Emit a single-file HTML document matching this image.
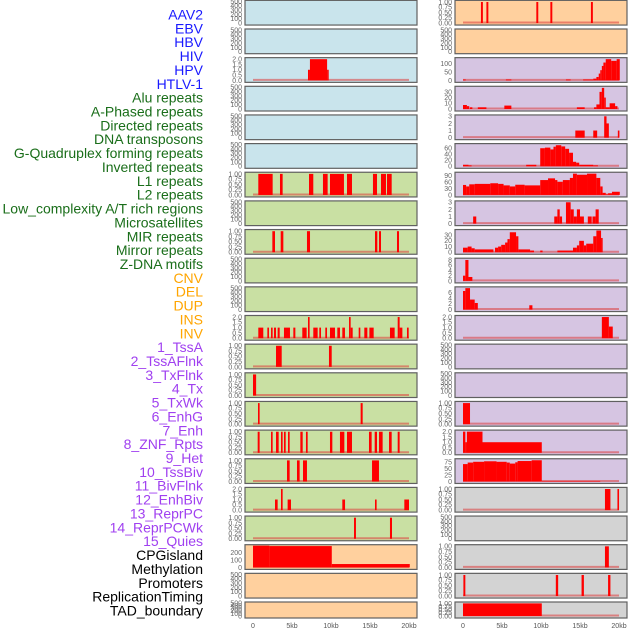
<!DOCTYPE html>
<html><head><meta charset="utf-8"><style>
html,body{margin:0;padding:0;background:#fff;width:630px;height:630px;overflow:hidden}
svg{display:block}
.lbl{font-family:"Liberation Sans",sans-serif;font-size:14px}
.tk{font-family:"Liberation Sans",sans-serif;font-size:7px;fill:#666}
.xt{font-family:"Liberation Sans",sans-serif;font-size:7px;fill:#555}
</style></head><body>
<svg id="chart" width="630" height="630"></svg>
<script>
const labels=["AAV2","EBV","HBV","HIV","HPV","HTLV-1","Alu repeats","A-Phased repeats","Directed repeats","DNA transposons","G-Quadruplex forming repeats","Inverted repeats","L1 repeats","L2 repeats","Low_complexity A/T rich regions","Microsatellites","MIR repeats","Mirror repeats","Z-DNA motifs","CNV","DEL","DUP","INS","INV","1_TssA","2_TssAFlnk","3_TxFlnk","4_Tx","5_TxWk","6_EnhG","7_Enh","8_ZNF_Rpts","9_Het","10_TssBiv","11_BivFlnk","12_EnhBiv","13_ReprPC","14_ReprPCWk","15_Quies","CPGisland","Methylation","Promoters","ReplicationTiming","TAD_boundary"];
const labelGroups=[0,0,0,0,0,0,1,1,1,1,1,1,1,1,1,1,1,1,1,2,2,2,2,2,3,3,3,3,3,3,3,3,3,3,3,3,3,3,3,4,4,4,4,4];
const xTicks=[0,5,10,15,20];
const xTickLabels=["0","5kb","10kb","15kb","20kb"];
const E=[500,[0,100,200,300,400,500]];
const T1=[1.03,[0,0.25,0.5,0.75,1]];
const T2=[2.05,[0,0.5,1,1.5,2]];
const leftScale=[E,E,T2,E,E,E,T1,E,T1,E,E,T2,T1,T1,T1,T1,T1,T2,T1,[290,[0,100,200]],E,E];
const rightScale=[T1,E,[128,[0,50,100]],[38,[0,10,20,30]],[3.05,[0,1,2,3]],[72,[0,20,40,60]],[102,[0,30,60,90]],[3.05,[0,1,2,3]],[38,[0,10,20,30]],[8.3,[0,2,4,6,8]],[7.6,[0,2,4,6]],T2,E,E,T1,T2,[85,[0,25,50,75]],T1,E,T1,T1,T1];
const leftBg=["b","b","b","b","b","b","g","g","g","g","g","g","g","g","g","g","g","g","g","o","o","o"];
const rightBg=["o","o","p","p","p","p","p","p","p","p","p","p","p","p","p","p","p","y","y","y","y","y"];
const leftBars=[
[],[],
[[7.05,7.3,1],[7.3,9.5,2],[9.5,9.7,1]],
[],[],[],
[[0.68,2.52,1],[3.46,3.8,1],[7.18,7.73,1],[8.97,9.57,1],[9.87,11.66,1],[12.05,12.69,1],[15.38,15.9,1],[16.41,17.05,1],[17.18,17.78,1]],
[],
[[2.48,2.82,1],[3.55,3.89,1],[6.92,7.31,1],[15.64,15.94,1],[16.15,16.41,1],[18.46,18.72,1]],
[],[],
[[0.68,1.32,1],[1.84,2.05,1],[2.31,2.52,1],[2.69,2.95,1],[3.16,3.42,1],[3.97,4.74,1],[5.17,5.43,1],[6.32,6.88,1],[7.05,7.26,2],[7.73,8.29,1],[8.5,8.72,1],[9.27,9.49,1],[9.87,10.51,1],[10.81,11.15,1],[11.45,11.79,1],[12.31,12.52,2],[12.52,12.78,1],[13.55,13.76,1],[14.27,14.66,1],[14.92,15.47,1],[17.56,18.16,1],[18.55,18.8,2],[18.8,19.15,1],[19.74,19.96,1]],
[[2.95,3.68,1],[9.74,10.09,1]],
[[0,0.4,1]],
[[0.64,0.85,1],[13.8,14.06,1]],
[[0.6,0.85,1],[2.31,2.52,1],[2.95,3.29,1],[3.59,3.8,1],[3.97,4.19,1],[4.49,4.7,1],[6.07,6.37,1],[6.79,7.01,1],[9.87,10.17,1],[11.15,11.71,1],[12.05,12.69,1],[14.87,15.21,1],[15.6,15.9,1],[16.15,16.62,1],[17.44,17.78,1],[18.55,18.8,1]],
[[4.36,4.7,1],[5.64,5.98,1],[6.41,6.92,1],[15.26,16.15,1]],
[[2.82,3.16,1],[3.59,3.8,2],[4.44,4.87,1],[11.45,11.8,1],[15.64,15.85,1],[19.4,20,1]],
[[12.95,13.2,1],[17.56,17.82,1]],
[[0,2.1,290],[2.1,10.1,285],[10.1,20.1,45]],
[],[]];
const rightBars=[
[[2.3,2.55,1],[3.0,3.25,1],[9.4,9.65,1],[11.2,11.45,1],[16.4,16.65,1]],
[],
[[0,0.35,5],[5.5,6.2,5],[13.2,13.8,5],[15.4,16.7,5],[16.7,17.1,10],[17.1,17.4,20],[17.4,17.6,40],[17.6,17.8,60],[17.8,18.0,85],[18.0,18.3,105],[18.3,19.0,125],[19.0,19.7,115],[19.7,20.1,125]],
[[0,0.5,7],[0.5,0.8,5],[0.9,1.2,3],[1.9,3.0,3],[5.3,6.2,6],[14.6,15.6,3],[16.8,17.1,3],[17.1,17.5,8],[17.5,17.8,30],[17.8,18.1,37],[18.1,18.3,20],[18.3,18.8,3],[18.8,19.5,10],[19.5,19.8,5]],
[[14.4,15.6,1],[16.7,17.2,1],[18.1,18.4,3],[18.4,18.7,2],[19.85,20.0,1]],
[[0,0.7,5],[0.7,1.1,3],[8.1,9.4,5],[9.9,10.5,60],[10.5,11.2,62],[11.2,11.6,56],[11.6,11.9,65],[11.9,12.6,70],[12.6,13.1,66],[13.1,13.6,58],[13.6,14.1,45],[14.1,14.5,15],[14.5,14.9,12],[14.9,16.7,5],[16.7,17.3,3]],
[[0,0.4,47],[0.4,0.8,40],[0.8,1.5,50],[1.5,3.5,52],[3.5,4.5,55],[4.5,5.2,52],[5.2,6.0,45],[6.0,6.7,40],[6.7,7.9,48],[7.9,9.9,45],[9.9,10.9,70],[10.9,11.8,78],[11.8,12.1,70],[12.1,12.8,62],[12.8,13.7,70],[13.7,14.1,80],[14.1,14.6,100],[14.6,15.9,95],[15.9,17.1,100],[17.1,17.6,80],[17.6,17.9,40],[17.9,18.3,10],[18.3,18.6,3],[18.6,19.1,8],[19.1,20.1,15]],
[[1.3,1.7,1],[11.7,12.1,1],[12.1,12.4,2],[12.4,12.7,1],[13.2,13.8,3],[13.8,14.2,2],[14.2,14.6,1],[14.6,15.0,2],[15.0,15.5,1],[16.0,16.5,1],[16.6,17.0,1],[17.0,17.4,2]],
[[0,0.6,8],[0.6,1.1,10],[1.1,1.5,7],[1.5,3.9,5],[4.1,4.5,8],[4.5,4.9,10],[4.9,5.4,13],[5.4,5.7,17],[5.7,6.0,23],[6.0,6.8,35],[6.8,7.1,28],[7.1,8.6,5],[8.6,9.1,3],[9.9,10.2,3],[12.1,14.1,3],[14.1,14.6,8],[14.6,14.9,12],[14.9,15.5,20],[15.5,15.8,12],[15.8,16.7,15],[16.7,17.1,28],[17.1,17.7,38],[17.7,17.9,25]],
[[0,0.3,2],[0.3,0.7,8],[0.7,1.2,1.5]],
[[0,0.3,6.5],[0.3,0.9,7.5],[0.9,1.5,3.5],[1.5,1.9,2.3],[8.5,8.9,1.5]],
[[17.8,18.7,2],[18.7,19.2,1.1]],
[],[],
[[0,0.9,1]],
[[0,0.3,2],[0.3,0.5,1],[0.5,2.5,2],[2.5,10.1,1]],
[[0,0.6,68],[0.6,1.3,74],[1.3,2.7,77],[2.7,4.3,79],[4.3,5.6,77],[5.6,6.0,74],[6.0,6.7,70],[6.7,7.0,75],[7.0,8.8,80],[8.8,10.1,83],[10.1,17.6,2]],
[[18.2,18.9,1],[19.8,20.0,1]],
[],
[[18.2,18.7,1]],
[[0.05,0.3,1],[11.9,12.2,1],[15.2,15.5,1],[18.6,18.9,1]],
[[0,10.1,1]]];

const NS="http://www.w3.org/2000/svg";
const svg=document.getElementById('chart');
function mk(tag,attrs,parent){const e=document.createElementNS(NS,tag);for(const k in attrs)e.setAttribute(k,attrs[k]);(parent||svg).appendChild(e);return e;}
const groupColors=["#1a1aff","#1a6e1a","#ffa500","#a040f0","#000"];
const bgColors={b:"#c9e4ec",g:"#c9e0a3",o:"#ffd09e",p:"#d6c5e2",y:"#d3d3d3"};

labels.forEach((t,i)=>{
  const e=mk('text',{x:203,y:19.5+i*13.86,'text-anchor':'end',class:'lbl',fill:groupColors[labelGroups[i]]});
  e.textContent=t;
  
  
});

function fmt(v,scale){
  if(scale===T1) return v.toFixed(2);
  if(scale===T2) return v.toFixed(1);
  return String(v);
}
function panel(col,i,scale,bars,bg){
  const px=col===0?245:455;
  const w=172;
  const top=0.35+i*28.65;
  const h=i===21?16:24.7;
  const g=mk('g',{});
  
  
  mk('rect',{x:px,y:top,width:w,height:h,fill:bgColors[bg],stroke:'#606060','stroke-width':1.2},g);
  const x0=px+8, kbw=7.8;
  const xs=v=>x0+v*kbw;
  const ymax=scale[0];
  const yb=top+h-2, yt=top+1;
  const ys=v=>yb-(v/ymax)*(yb-yt);
  scale[1].forEach(t=>{
    const e=mk('text',{x:px-3,y:ys(t)+2.4,'text-anchor':'end',class:'tk'},g);
    e.textContent=fmt(t,scale);
    
    
  });
  if(bars.length){
    mk('line',{x1:xs(0),x2:xs(20),y1:yb-0.5,y2:yb-0.5,stroke:'rgba(220,60,60,0.55)','stroke-width':2},g);
  }
  bars.forEach(b=>{
    const x1=xs(b[0]),x2=xs(b[1]);
    const r=mk('rect',{x:x1,y:ys(b[2]),width:Math.max(1.6,x2-x1),height:Math.max(0.5,yb-ys(b[2])),fill:'#ff0000'},g);
    
    
  });
}
for(let i=0;i<22;i++){
  panel(0,i,leftScale[i],leftBars[i],leftBg[i]);
  panel(1,i,rightScale[i],rightBars[i],rightBg[i]);
}
[253,463].forEach((x0,c)=>{
  xTicks.forEach((v,k)=>{
    const e=mk('text',{x:x0+v*7.8,y:628,'text-anchor':'middle',class:'xt'});
    e.textContent=xTickLabels[k];
    
    
  });
});
</script>
</body></html>
